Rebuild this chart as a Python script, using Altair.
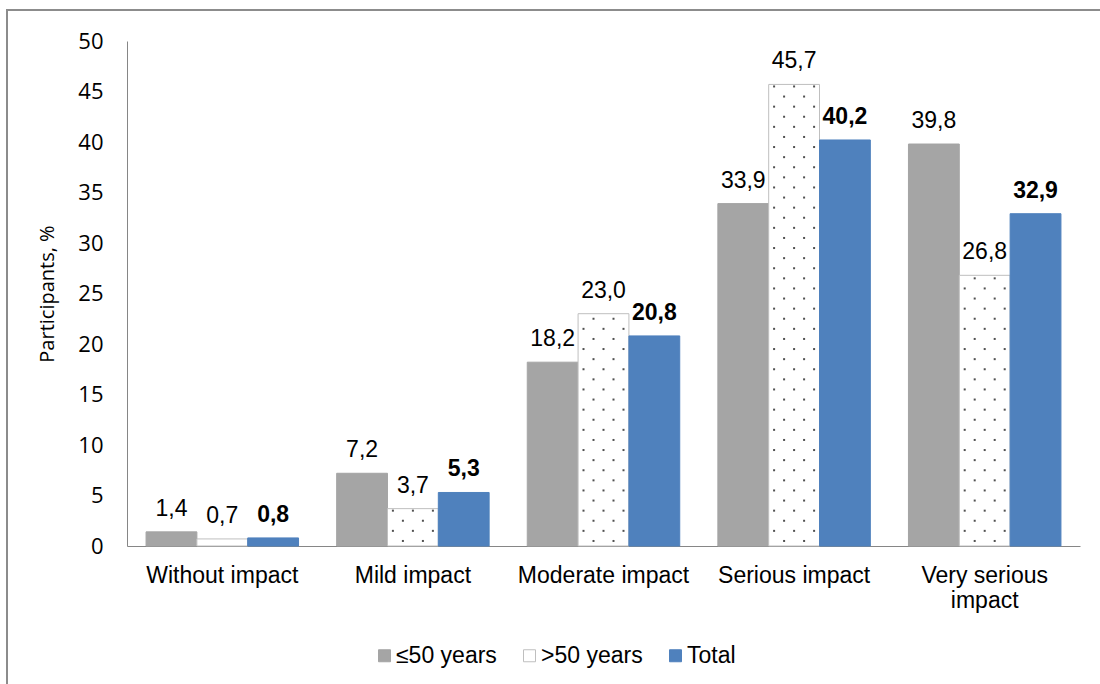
import altair as alt
import pandas as pd

categories = ["Without impact", "Mild impact", "Moderate impact", "Serious impact", "Very serious impact"]
series_names = ["≤50 years", ">50 years", "Total"]
young = [1.4, 7.2, 18.2, 33.9, 39.8]
older = [0.7, 3.7, 23.0, 45.7, 26.8]
total = [0.8, 5.3, 20.8, 40.2, 32.9]

rows = []
for s, vals in zip(series_names, [young, older, total]):
    for c, v in zip(categories, vals):
        rows.append({"category": c, "series": s, "value": v})
df = pd.DataFrame(rows)

# dotted texture for the ">50 years" bars (one row of dots per unit)
dot_rows = []
for c, v in zip(categories, older):
    k = 0
    while k + 0.5 <= v - 0.2:
        offs = [-10, 10] if k % 2 == 0 else [-20, 0, 20]
        for o in offs:
            dot_rows.append({"category": c, "value": k + 0.5, "off": o})
        k += 1
dots_df = pd.DataFrame(dot_rows)

LABEL_FONT = "Liberation Sans"
NUM_FONT = "Open Sans"
FS = 23

x_enc = alt.X(
    "category:N", sort=categories, title=None,
    scale=alt.Scale(paddingInner=0.2, paddingOuter=0.1),
    axis=alt.Axis(
        labelAngle=0, ticks=False, tickSize=0, labelPadding=18,
        labelFont=LABEL_FONT, labelFontSize=FS, labelColor="black", labelLimit=400,
        labelExpr="datum.label == 'Very serious impact' ? ['Very serious', 'impact'] : datum.label",
        labelLineHeight=25, domainColor="#868686", domainWidth=1, grid=False,
    ),
)
xoff_enc = alt.XOffset("series:N", sort=series_names,
                       scale=alt.Scale(domain=series_names, paddingInner=0, paddingOuter=0))
y_enc = alt.Y(
    "value:Q", title="Participants, %",
    scale=alt.Scale(domain=[0, 50], nice=False),
    axis=alt.Axis(
        values=list(range(0, 51, 5)), ticks=False, tickSize=0, grid=False,
        labelFont=NUM_FONT, labelFontSize=22, labelColor="black", labelPadding=24,
        titleFont=NUM_FONT, titleFontSize=20, titleFontWeight="normal", titleColor="black",
        titlePadding=20, domainColor="#868686", domainWidth=1,
    ),
)

legend = alt.Legend(
    title=None, orient="none", legendX=246, legendY=603, direction="horizontal",
    symbolType="square", symbolSize=144, symbolStrokeWidth=1,
    labelFont=LABEL_FONT, labelFontSize=FS, labelColor="black",
    labelOffset=0, columnPadding=21,
)
fill_enc = alt.Fill("series:N", scale=alt.Scale(domain=series_names, range=["#a5a5a5", "#ffffff", "#4f81bd"]), legend=legend)
stroke_enc = alt.Stroke("series:N", scale=alt.Scale(domain=series_names, range=["#a5a5a5", "#bfbfbf", "#4f81bd"]), legend=legend)

bars = alt.Chart(df).mark_bar(strokeWidth=1).encode(
    x=x_enc, xOffset=xoff_enc, y=y_enc, fill=fill_enc, stroke=stroke_enc
)

dot_layers = []
for off in [-20, -10, 0, 10, 20]:
    dot_layers.append(
        alt.Chart(dots_df).transform_filter(alt.datum.off == off)
        .mark_square(size=4, color="#505050", opacity=1, xOffset=off)
        .encode(x=x_enc, y=y_enc)
    )

label_expr = "replace(format(datum.value, '.1f'), '.', ',')"
labels_norm = alt.Chart(df).transform_filter(alt.datum.series != "Total").transform_calculate(
    label=label_expr
).mark_text(font=LABEL_FONT, fontSize=FS, color="black", baseline="middle", dy=-23).encode(
    x=x_enc, xOffset=xoff_enc, y=y_enc, text="label:N"
)
labels_bold = alt.Chart(df).transform_filter(alt.datum.series == "Total").transform_calculate(
    label=label_expr
).mark_text(font=LABEL_FONT, fontSize=FS, fontWeight="bold", color="black", baseline="middle", dy=-23).encode(
    x=x_enc, xOffset=xoff_enc, y=y_enc, text="label:N"
)

one = pd.DataFrame({"a": [0]})
border_top = alt.Chart(one).mark_rule(color="#8c8c8c", strokeWidth=2).encode(
    x=alt.value(-121), x2=alt.value(1100), y=alt.value(-31)
)
border_left = alt.Chart(one).mark_rule(color="#8c8c8c", strokeWidth=2).encode(
    x=alt.value(-120), y=alt.value(-32), y2=alt.value(700)
)

chart = alt.layer(bars, *dot_layers, labels_norm, labels_bold, border_top, border_left).properties(
    width=953, height=505,
    padding={"left": 127, "top": 41, "right": 20, "bottom": 138},
    autosize=alt.AutoSizeParams(type="none"),
    background="white",
).configure_view(stroke=None)

chart.save("out.html", embed_options={"renderer": "svg", "actions": False})
